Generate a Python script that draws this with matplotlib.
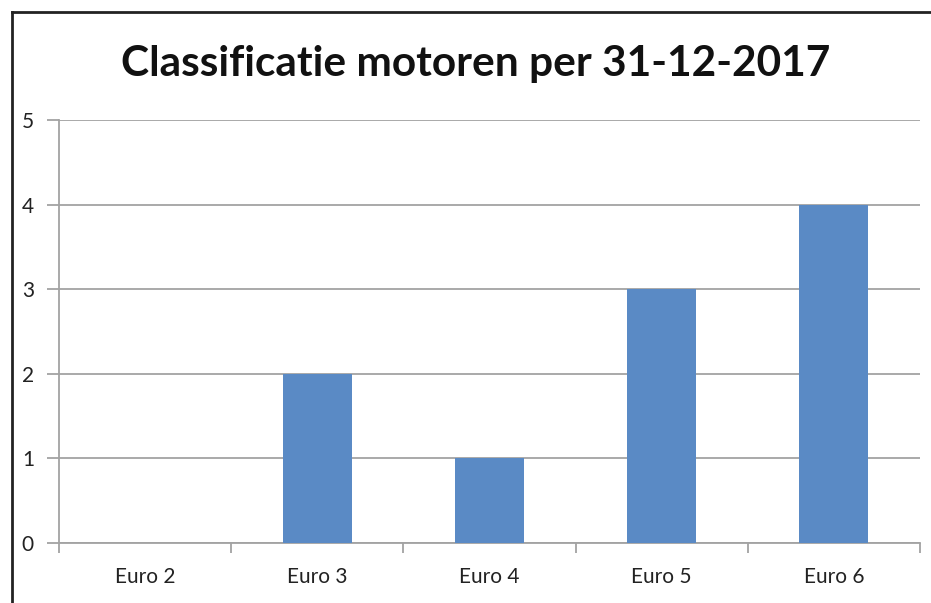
import matplotlib.pyplot as plt
from matplotlib.lines import Line2D
import numpy as np

categories = ["Euro 2", "Euro 3", "Euro 4", "Euro 5", "Euro 6"]
counts = [0, 2, 1, 3, 4]
title = "Classificatie motoren per 31-12-2017"

BAR = "#5A8AC5"
GRID = "#A3A3A3"
W, H = 931, 603

plt.rcParams["font.family"] = ["Lato", "DejaVu Sans"]

fig = plt.figure(figsize=(W / 100, H / 100), dpi=100)
fig.patch.set_facecolor("white")
ax = fig.add_axes([59 / W, (H - 543) / H, (920 - 59) / W, (543 - 120) / H])

x = np.arange(len(categories))
ax.bar(x, counts, width=0.4, color=BAR, zorder=3)

ax.set_xlim(-0.5, len(categories) - 0.5)
ax.set_ylim(0, 5)
ax.set_yticks(range(6))
ax.yaxis.grid(True, color=GRID, linewidth=1.3, zorder=0)
ax.set_xticks(x)
ax.set_xticklabels(categories, fontsize=15, color="#222222")
ax.set_xticks(np.arange(-0.5, len(categories)), minor=True)
ax.tick_params(axis="x", which="major", length=0, pad=17)
ax.tick_params(axis="x", which="minor", length=7, color=GRID, width=1.3, direction="out")
ax.tick_params(axis="y", length=9, color=GRID, width=1.3, labelsize=15,
               labelcolor="#222222", pad=9)

for s in ["top", "right"]:
    ax.spines[s].set_visible(False)
for s in ["left", "bottom"]:
    ax.spines[s].set_color(GRID)
    ax.spines[s].set_linewidth(1.3)

fig.text(476 / W, 1 - 76 / H, title, ha="center", va="baseline",
         fontsize=30.5, fontweight="bold", color="#111111")

# outer frame (left and top edges only visible in the crop)
fig.add_artist(Line2D([11.5 / W, 11.5 / W], [0, 1 - 11.5 / H], transform=fig.transFigure,
                      color="#222222", linewidth=2))
fig.add_artist(Line2D([11.5 / W, 1], [1 - 11.5 / H, 1 - 11.5 / H], transform=fig.transFigure,
                      color="#222222", linewidth=2))

fig.savefig("out.png", dpi=100, facecolor="white")
